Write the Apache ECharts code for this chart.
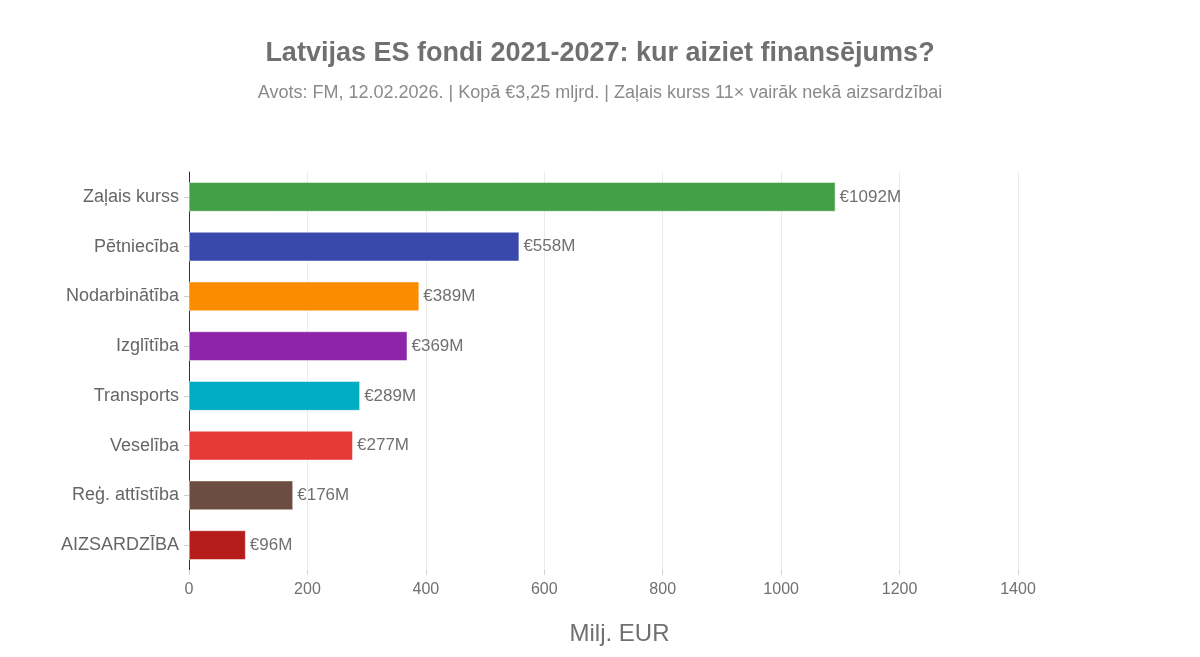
<!DOCTYPE html>
<html>
<head>
<meta charset="utf-8">
<script src="https://cdn.jsdelivr.net/npm/echarts@6/dist/echarts.min.js"></script>
<style>
  html, body { margin: 0; padding: 0; background: #fff; }
  #main { width: 1200px; height: 657px; }
</style>
</head>
<body>
<div id="main"></div>
<script>
// kategorijas (no apakšas uz augšu, kā ECharts zīmē category asi)
var categories = ['AIZSARDZĪBA', 'Reģ. attīstība', 'Veselība', 'Transports', 'Izglītība', 'Nodarbinātība', 'Pētniecība', 'Zaļais kurss'];
var values = [96, 176, 277, 289, 369, 389, 558, 1092];
var barColors = ['#b71c1c', '#6d4c41', '#e53935', '#00acc1', '#8e24aa', '#fb8c00', '#3949ab', '#43a047'];
var xTicks = [0, 200, 400, 600, 800, 1000, 1200, 1400];

var fontFam = '"Liberation Sans", Arial, sans-serif';

var myChart = echarts.init(document.getElementById('main'));

var option = {
    backgroundColor: '#fff',
    title: {
        text: 'Latvijas ES fondi 2021-2027: kur aiziet finansējums?',
        subtext: 'Avots: FM, 12.02.2026. | Kopā €3,25 mljrd. | Zaļais kurss 11× vairāk nekā aizsardzībai',
        left: 'center',
        top: 35,
        itemGap: 17,
        textStyle: { fontFamily: fontFam, fontSize: 27, fontWeight: 'bold', color: '#707070' },
        subtextStyle: { fontFamily: fontFam, fontSize: 18, color: '#8a8a8a' }
    },
    grid: {
        left: 189,
        right: 182,
        top: 172,
        bottom: 87,
        containLabel: false
    },
    xAxis: {
        type: 'value',
        min: xTicks[0],
        max: xTicks[xTicks.length - 1],
        interval: 200,
        name: 'Milj. EUR',
        nameLocation: 'middle',
        nameGap: 52,
        nameTextStyle: { fontFamily: fontFam, fontSize: 24, color: '#707070', padding: [0, 0, 0, 32] },
        axisLine: { show: false },
        axisTick: { show: true, length: 5, lineStyle: { color: '#d0d0d0' } },
        axisLabel: {
            fontFamily: fontFam, fontSize: 16, color: '#707070', margin: 12,
            formatter: function (v) { return String(v); }
        },
        splitLine: { show: true, lineStyle: { color: '#ebebeb', width: 1 } }
    },
    yAxis: {
        type: 'category',
        data: categories,
        axisLine: { show: true, lineStyle: { color: '#333', width: 1 } },
        axisTick: { show: true, alignWithLabel: true, length: 5, lineStyle: { color: '#cccccc' } },
        axisLabel: { fontFamily: fontFam, fontSize: 18, color: '#666', margin: 10 },
        splitLine: { show: false }
    },
    series: [{
        type: 'bar',
        barWidth: '60%',
        data: values.map(function (v, i) {
            return { value: v, itemStyle: { color: barColors[i] } };
        }),
        itemStyle: { borderColor: 'rgba(255,255,255,0.5)', borderWidth: 1 },
        label: {
            show: true,
            position: 'right',
            distance: 4,
            fontFamily: fontFam,
            fontSize: 17,
            color: '#707070',
            formatter: function (p) { return '€' + p.value + 'M'; }
        }
    }]
};

myChart.setOption(option);
</script>
</body>
</html>
